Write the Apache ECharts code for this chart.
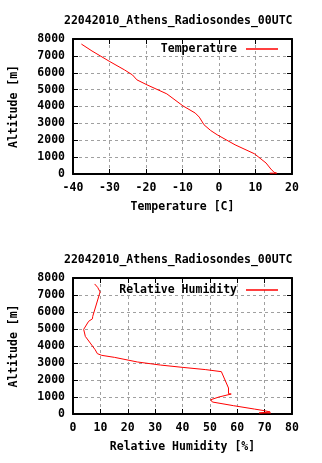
<!DOCTYPE html>
<html>
<head>
<meta charset="utf-8">
<script src="https://cdn.jsdelivr.net/npm/echarts@6/dist/echarts.min.js"></script>
<style>
  html, body { margin: 0; padding: 0; background: #fff; }
  #chart { width: 322px; height: 463px; }
</style>
</head>
<body>
<div id="chart"></div>
<script>
// Sounding profile: temperature [C] and relative humidity [%] versus altitude [m]
const titleText = '22042010_Athens_Radiosondes_00UTC';

const tempC = [-37.7, -34.8, -29.9, -25.9, -23.7, -22.5, -19.7, -14.3, -9.9, -6.5, -5.4, -4.1, -2.3, -0.5, 4.4, 9.7, 12.9, 14.2, 15.1, 15.8, 13.9];
const tempAlt = [7700, 7290, 6660, 6170, 5870, 5580, 5280, 4750, 4040, 3610, 3370, 2915, 2580, 2325, 1730, 1200, 650, 295, 100, 50, 50];

const rhPct = [7.9, 9.0, 9.9, 7.2, 7.1, 5.7, 3.9, 4.5, 6.3, 8.1, 8.9, 10.5, 15.2, 23.5, 31.9, 40.2, 48.5, 54.2, 56.8, 56.8, 57.8, 53.3, 50.3, 49.9, 50.9, 58.6, 66.3, 69.9, 72.0, 68.0, 72.3];
const rhAlt = [7650, 7450, 7180, 5740, 5600, 5450, 4980, 4565, 4175, 3780, 3550, 3450, 3330, 3060, 2880, 2740, 2610, 2490, 1530, 1195, 1175, 1000, 840, 780, 705, 490, 290, 195, 120, 60, 60];

const tempTicks = { min: -40, max: 20, interval: 10 };
const rhTicks = { min: 0, max: 80, interval: 10 };
const altTicks = { min: 0, max: 8000, interval: 1000 };

const FONT = 'DejaVu Sans Mono';
const font = { fontFamily: FONT, fontWeight: 'bold', fontSize: 11.5, color: '#000' };
const plain = v => String(v);

function pairs(xs, ys) { return xs.map((x, i) => [x, ys[i]]); }

const frameLine = { show: true, onZero: false, lineStyle: { color: '#000', width: 2 } };
const tickIn = { show: true, inside: true, length: 5, lineStyle: { color: '#000', width: 1 } };
const dashGrid = { show: true, lineStyle: { color: '#a0a0a0', type: [3, 3], width: 1 } };

function mainX(grid, range, name) {
  return Object.assign({
    type: 'value', gridIndex: grid, position: 'bottom',
    name: name, nameLocation: 'middle', nameGap: 27, nameTextStyle: font,
    axisLine: frameLine, axisTick: tickIn, splitLine: dashGrid,
    axisLabel: Object.assign({ margin: 8, formatter: plain }, font)
  }, range);
}
function mirrorX(grid, range) {
  return Object.assign({
    type: 'value', gridIndex: grid, position: 'top',
    axisLine: frameLine, axisTick: tickIn, splitLine: { show: false },
    axisLabel: { show: false }
  }, range);
}
function mainY(grid) {
  return Object.assign({
    type: 'value', gridIndex: grid, position: 'left',
    name: 'Altitude [m]', nameLocation: 'middle', nameGap: 53, nameTextStyle: font,
    axisLine: frameLine, axisTick: tickIn, splitLine: dashGrid,
    axisLabel: Object.assign({ margin: 8, formatter: plain }, font)
  }, altTicks);
}
function mirrorY(grid) {
  return Object.assign({
    type: 'value', gridIndex: grid, position: 'right',
    axisLine: frameLine, axisTick: tickIn, splitLine: { show: false },
    axisLabel: { show: false }
  }, altTicks);
}

function legendFor(name, top) {
  return {
    data: [name], right: 39, top: top, align: 'right',
    icon: 'rect', itemWidth: 32, itemHeight: 1.5,
    itemStyle: { color: '#ff0000' },
    textStyle: Object.assign({ padding: [0, 4, 0, 0] }, font),
    selectedMode: false
  };
}

const option = {
  animation: false,
  backgroundColor: '#fff',
  title: [
    { text: titleText, left: 59, top: 10, textStyle: font },
    { text: titleText, left: 59, top: 249, textStyle: font }
  ],
  legend: [legendFor('Temperature', 38), legendFor('Relative Humidity', 279)],
  grid: [
    { left: 67, right: 30, top: 39, height: 135 },
    { left: 67, right: 30, top: 278, height: 136 }
  ],
  xAxis: [
    mainX(0, tempTicks, 'Temperature [C]'),
    mirrorX(0, tempTicks),
    mainX(1, rhTicks, 'Relative Humidity [%]'),
    mirrorX(1, rhTicks)
  ],
  yAxis: [mainY(0), mirrorY(0), mainY(1), mirrorY(1)],
  series: [
    {
      name: 'Temperature', type: 'line', xAxisIndex: 0, yAxisIndex: 0,
      data: pairs(tempC, tempAlt), symbol: 'none',
      lineStyle: { color: '#ff0000', width: 1 }, itemStyle: { color: '#ff0000' }
    },
    {
      name: 'Relative Humidity', type: 'line', xAxisIndex: 2, yAxisIndex: 2,
      data: pairs(rhPct, rhAlt), symbol: 'none',
      lineStyle: { color: '#ff0000', width: 1 }, itemStyle: { color: '#ff0000' }
    }
  ]
};

echarts.init(document.getElementById('chart')).setOption(option);
</script>
</body>
</html>
